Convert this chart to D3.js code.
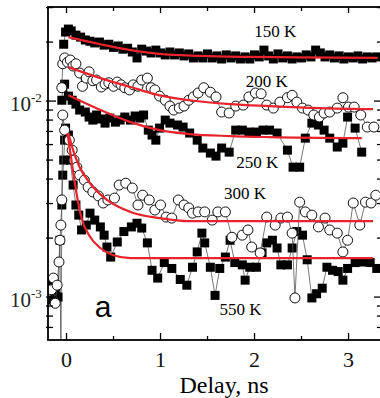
<!DOCTYPE html>
<html><head><meta charset="utf-8">
<script src="https://cdn.jsdelivr.net/npm/d3@7"></script>
<style>html,body{margin:0;padding:0;background:#fff;} svg{display:block;}</style>
</head><body><svg id="c" width="380" height="398"></svg>
<script>
// ---- data: [delay (ns), signal] ----
const data150 = [[-0.03,0.0195],[-0.01,0.0225],[0.02,0.0233],[0.05,0.0228],[0.10,0.0217],[0.15,0.0212],[0.20,0.0205],[0.25,0.0202],[0.30,0.0198],[0.35,0.0200],[0.40,0.0193],[0.45,0.0195],[0.50,0.0188],[0.55,0.0191],[0.60,0.0184],[0.65,0.0186],[0.70,0.0178],[0.75,0.0166],[0.80,0.0184],[0.85,0.0180],[0.90,0.0176],[0.95,0.0182],[1.00,0.0176],[1.05,0.0172],[1.10,0.0178],[1.15,0.0172],[1.20,0.0176],[1.25,0.0170],[1.30,0.0174],[1.35,0.0166],[1.40,0.0170],[1.45,0.0166],[1.50,0.0174],[1.55,0.0166],[1.60,0.0170],[1.65,0.0164],[1.70,0.0172],[1.75,0.0166],[1.80,0.0170],[1.85,0.0164],[1.90,0.0168],[1.95,0.0164],[2.00,0.0172],[2.05,0.0168],[2.10,0.0182],[2.15,0.0170],[2.20,0.0164],[2.25,0.0174],[2.30,0.0166],[2.35,0.0170],[2.40,0.0164],[2.45,0.0168],[2.50,0.0166],[2.55,0.0172],[2.60,0.0168],[2.65,0.0182],[2.70,0.0176],[2.75,0.0168],[2.80,0.0172],[2.85,0.0166],[2.90,0.0170],[2.95,0.0164],[3.00,0.0168],[3.05,0.0166],[3.10,0.0170],[3.15,0.0164],[3.20,0.0168],[3.25,0.0166],[3.30,0.0168]];
const data200 = [[-0.05,0.0117],[-0.04,0.0155],[-0.02,0.0166],[0.01,0.0158],[0.04,0.0162],[0.07,0.0151],[0.10,0.0155],[0.14,0.0139],[0.17,0.0119],[0.21,0.0131],[0.24,0.0141],[0.28,0.0127],[0.32,0.0128],[0.37,0.0118],[0.41,0.0122],[0.45,0.0124],[0.50,0.0119],[0.54,0.0125],[0.58,0.0121],[0.62,0.0117],[0.67,0.0114],[0.71,0.0121],[0.76,0.0119],[0.80,0.0128],[0.86,0.0131],[0.90,0.0117],[0.94,0.0114],[0.99,0.0106],[1.05,0.0101],[1.10,0.00943],[1.14,0.00900],[1.20,0.00921],[1.25,0.00943],[1.30,0.0101],[1.35,0.0105],[1.40,0.0110],[1.46,0.0117],[1.53,0.0111],[1.59,0.0105],[1.65,0.00879],[1.73,0.00869],[1.80,0.00943],[1.88,0.00954],[1.94,0.0105],[2.01,0.0110],[2.07,0.0109],[2.13,0.00954],[2.20,0.00921],[2.27,0.00988],[2.35,0.0104],[2.40,0.0107],[2.45,0.00988],[2.51,0.00921],[2.57,0.00900],[2.63,0.00849],[2.69,0.00829],[2.74,0.00869],[2.80,0.00879],[2.88,0.00921],[2.94,0.0104],[3.00,0.00932],[3.06,0.00932],[3.13,0.00849],[3.20,0.00737],[3.27,0.00737]];
const data250 = [[-0.05,0.0101],[-0.04,0.0117],[-0.02,0.0122],[0.02,0.0106],[0.06,0.0101],[0.10,0.00965],[0.14,0.0090],[0.20,0.00879],[0.24,0.00829],[0.28,0.0080],[0.32,0.00849],[0.37,0.0081],[0.41,0.00772],[0.46,0.00819],[0.52,0.00781],[0.57,0.0080],[0.62,0.00829],[0.68,0.0080],[0.73,0.00839],[0.78,0.00819],[0.82,0.00849],[0.87,0.00711],[0.91,0.00671],[0.95,0.00632],[0.99,0.00728],[1.05,0.0080],[1.10,0.00772],[1.18,0.00755],[1.24,0.00737],[1.31,0.00687],[1.39,0.00632],[1.45,0.00576],[1.53,0.00543],[1.59,0.00524],[1.65,0.00576],[1.73,0.00549],[1.80,0.00711],[1.87,0.00711],[1.94,0.00695],[2.02,0.00695],[2.09,0.00711],[2.16,0.00711],[2.24,0.00687],[2.35,0.00562],[2.41,0.0046],[2.48,0.0046],[2.54,0.00647],[2.61,0.00772],[2.68,0.00755],[2.74,0.00711],[2.80,0.00647],[2.88,0.00583],[2.94,0.0061],[2.99,0.00829],[3.07,0.00728],[3.14,0.00549]];
const data300 = [[-0.16,0.00109],[-0.14,0.00125],[-0.12,0.00093],[-0.10,0.00115],[-0.08,0.00151],[-0.07,0.00195],[-0.06,0.00233],[-0.05,0.00313],[-0.04,0.00849],[-0.02,0.00711],[0.03,0.00632],[0.06,0.00562],[0.08,0.0050],[0.11,0.0046],[0.14,0.00419],[0.19,0.00395],[0.23,0.00364],[0.28,0.00344],[0.34,0.00328],[0.39,0.00302],[0.44,0.00313],[0.51,0.0032],[0.56,0.00373],[0.63,0.00381],[0.70,0.0036],[0.76,0.00295],[0.81,0.00331],[0.88,0.00313],[0.94,0.00278],[1.00,0.00295],[1.06,0.00256],[1.12,0.00253],[1.19,0.00313],[1.25,0.00295],[1.30,0.00285],[1.34,0.00268],[1.40,0.00272],[1.47,0.00272],[1.55,0.00247],[1.61,0.00272],[1.69,0.00272],[1.76,0.00202],[1.87,0.00207],[1.93,0.0022],[1.97,0.0018],[2.06,0.00168],[2.13,0.00256],[2.22,0.00233],[2.28,0.00253],[2.35,0.00256],[2.40,0.00212],[2.43,0.00099],[2.48,0.00305],[2.54,0.00272],[2.61,0.00262],[2.68,0.00228],[2.75,0.00253],[2.80,0.0022],[2.88,0.00212],[2.94,0.0017],[2.99,0.00195],[3.05,0.00302],[3.12,0.00233],[3.18,0.00305],[3.24,0.00302],[3.29,0.00331]];
const data550 = [[-0.18,0.000966],[-0.15,0.00118],[-0.12,0.00106],[-0.09,0.00100],[-0.07,0.00195],[-0.06,0.00045],[-0.05,0.00295],[-0.04,0.00419],[-0.03,0.0050],[-0.02,0.00632],[-0.01,0.00728],[0.02,0.00671],[0.04,0.0050],[0.07,0.00373],[0.10,0.00295],[0.13,0.00262],[0.16,0.0022],[0.21,0.00233],[0.25,0.00268],[0.30,0.00247],[0.36,0.00228],[0.40,0.00207],[0.43,0.0018],[0.47,0.0016],[0.54,0.00191],[0.61,0.00216],[0.69,0.00228],[0.75,0.00238],[0.80,0.00225],[0.86,0.00189],[0.91,0.00137],[0.97,0.00125],[1.04,0.0015],[1.12,0.0014],[1.21,0.00123],[1.28,0.00115],[1.34,0.00142],[1.39,0.0017],[1.44,0.00212],[1.47,0.00189],[1.53,0.00142],[1.58,0.00102],[1.63,0.0014],[1.69,0.0016],[1.74,0.00195],[1.79,0.0015],[1.87,0.00146],[1.90,0.00122],[1.95,0.00142],[2.02,0.00142],[2.08,0.00168],[2.13,0.00189],[2.19,0.00195],[2.24,0.00178],[2.28,0.00146],[2.35,0.00146],[2.40,0.00178],[2.45,0.00216],[2.51,0.00207],[2.56,0.00155],[2.61,0.00099],[2.66,0.00104],[2.72,0.00111],[2.77,0.00142],[2.83,0.00137],[2.89,0.00135],[2.94,0.00122],[2.99,0.0014],[3.07,0.0015],[3.14,0.00151],[3.23,0.0015],[3.30,0.0014]];

// ---- fit curves (red) ----
const fit150 = [[0.02,0.0212],[0.36,0.0195],[0.68,0.0182],[0.99,0.0174],[1.42,0.0170],[1.95,0.0168],[2.48,0.0167],[3.31,0.0166]];
const fit200 = [[0.02,0.0149],[0.36,0.0131],[0.68,0.0118],[0.99,0.0107],[1.31,0.0101],[1.74,0.00965],[2.16,0.00943],[2.70,0.00921],[3.26,0.00910]];
const fit250 = [[0.02,0.0107],[0.36,0.0090],[0.68,0.00781],[0.99,0.00711],[1.31,0.00679],[1.74,0.00663],[2.16,0.00655],[3.14,0.00647]];
const fit300 = [[0.02,0.00687],[0.07,0.00562],[0.14,0.0046],[0.25,0.00381],[0.43,0.00313],[0.68,0.00272],[0.99,0.00253],[1.31,0.00244],[3.26,0.00244]];
const fit550 = [[0.01,0.00687],[0.06,0.00471],[0.11,0.00331],[0.16,0.00253],[0.25,0.00203],[0.36,0.00178],[0.49,0.00164],[0.68,0.00158],[3.26,0.00158]];

const xTickValues = [0,1,2,3];
const yLabelValues = [1e-2, 1e-3];
const yLabelExps = ["-2","-3"];
const tempLabels = ["150 K","200 K","250 K","300 K","550 K"];
const tempLabelPos = [[2.22,0.0212],[2.13,0.0118],[2.03,0.00455],[1.90,0.00316],[1.85,0.00081]];

// ---- layout ----
const L=48, R=382, T=7, B=340;
const x = d3.scaleLinear().domain([-0.197, 3.356]).range([L, R]);
const y = d3.scaleLog().domain([6.04e-4, 0.0302]).range([B, T]);
const svg = d3.select("#c");
const serif = "'Liberation Serif','Times New Roman',serif";

svg.append("defs").append("clipPath").attr("id","clip")
  .append("rect").attr("x",L).attr("y",T).attr("width",R-L).attr("height",B-T);
const g = svg.append("g").attr("clip-path","url(#clip)");

const line = d3.line().x(d=>x(d[0])).y(d=>y(d[1]));
const series = [
  {d:data150, sym:"sq"},{d:data250, sym:"sq"},{d:data550, sym:"sq"},
  {d:data200, sym:"ci"},{d:data300, sym:"ci"}
];
series.forEach(s=>{
  g.append("path").attr("d", line(s.d)).attr("fill","none")
    .attr("stroke","#555").attr("stroke-width",0.8);
  if (s.sym==="sq") {
    g.selectAll(null).data(s.d).enter().append("rect")
      .attr("x",d=>x(d[0])-4.5).attr("y",d=>y(d[1])-4.5)
      .attr("width",9).attr("height",9).attr("fill","#000");
  } else {
    g.selectAll(null).data(s.d).enter().append("circle")
      .attr("cx",d=>x(d[0])).attr("cy",d=>y(d[1])).attr("r",5)
      .attr("fill","#fff").attr("stroke","#111").attr("stroke-width",1);
  }
});

const fitLine = d3.line().x(d=>x(d[0])).y(d=>y(d[1])).curve(d3.curveMonotoneX);
[fit150,fit200,fit250,fit300,fit550].forEach(f=>{
  g.append("path").attr("d", fitLine(f)).attr("fill","none")
    .attr("stroke","#e8232b").attr("stroke-width",2.2);
});

// ---- frame & ticks ----
svg.append("rect").attr("x",L).attr("y",T).attr("width",R-L).attr("height",B-T)
  .attr("fill","none").attr("stroke","#000").attr("stroke-width",1.8);

const xt = d3.range(0, 3.01, 0.5);
xt.forEach(v=>{
  const major = Math.abs(v-Math.round(v))<1e-6;
  const X = x(v);
  svg.append("line").attr("x1",X).attr("x2",X).attr("y1",B).attr("y2",B-(major?7:4))
    .attr("stroke","#000").attr("stroke-width",1.3);
  svg.append("line").attr("x1",X).attr("x2",X).attr("y1",T).attr("y2",T+(major?6:4))
    .attr("stroke","#000").attr("stroke-width",1.3);
});
const yt = [];
[-4,-3,-2,-1].forEach(e=>{ for(let k=1;k<10;k++){ const v=k*Math.pow(10,e); if(v>=y.domain()[0]&&v<=y.domain()[1]) yt.push({v, major:k===1}); }});
yt.forEach(t=>{
  const Y = y(t.v);
  const len = t.major?8:5;
  svg.append("line").attr("x1",L-2).attr("x2",L+len).attr("y1",Y).attr("y2",Y)
    .attr("stroke","#000").attr("stroke-width",1.3);
  svg.append("line").attr("x1",R).attr("x2",R-len).attr("y1",Y).attr("y2",Y)
    .attr("stroke","#000").attr("stroke-width",1.3);
});

// ---- tick labels ----
xTickValues.forEach(v=>{
  svg.append("text").attr("x",x(v)).attr("y",367).attr("text-anchor","middle")
    .attr("font-family",serif).attr("font-size",22).attr("fill","#111").text(v);
});
yLabelValues.forEach((v,i)=>{
  const t = svg.append("text").attr("x",10).attr("y",y(v)+9.5)
    .attr("font-family",serif).attr("font-size",21).attr("fill","#222");
  t.append("tspan").text("10");
  t.append("tspan").attr("font-size",13).attr("dy",-9).text(yLabelExps[i]);
});
svg.append("text").attr("x",224).attr("y",393).attr("text-anchor","middle")
  .attr("font-family",serif).attr("font-size",24).attr("fill","#000").text("Delay, ns");

tempLabels.forEach((s,i)=>{
  svg.append("text").attr("x",x(tempLabelPos[i][0])).attr("y",y(tempLabelPos[i][1]))
    .attr("text-anchor","middle").attr("font-family",serif).attr("font-size",17)
    .attr("fill","#000").text(s);
});
svg.append("text").attr("x",x(0.39)).attr("y",y(0.00079)).attr("text-anchor","middle")
  .attr("font-family","'Liberation Sans',Arial,sans-serif").attr("font-size",30)
  .attr("fill","#000").text("a");
</script></body></html>
